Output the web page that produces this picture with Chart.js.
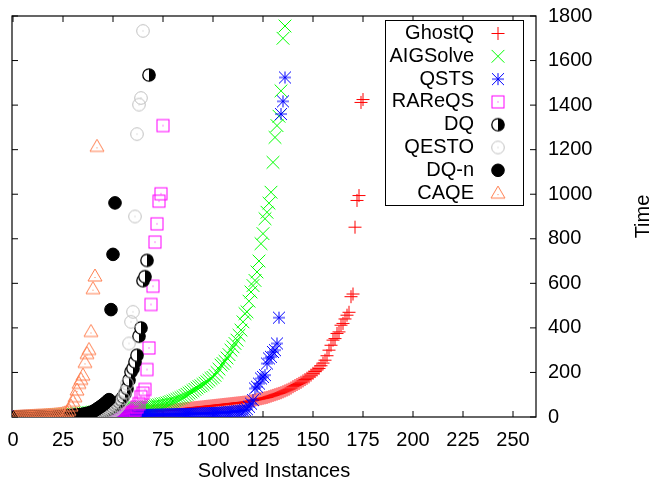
<!DOCTYPE html>
<html>
<head>
<meta charset="utf-8">
<script src="https://cdn.jsdelivr.net/npm/chart.js@4.4.0/dist/chart.umd.min.js"></script>
<style>
html,body{margin:0;padding:0;background:#fff}
#wrap{width:655px;height:486px}
</style>
</head>
<body>
<div id="wrap"><canvas id="c" width="655" height="486"></canvas></div>
<script>
// Axis ticks
const xTicks = [0, 25, 50, 75, 100, 125, 150, 175, 200, 225, 250];
const yTicks = [0, 200, 400, 600, 800, 1000, 1200, 1400, 1600, 1800];

// Solver names (legend order)
const solverNames = ['GhostQ', 'AIGSolve', 'QSTS', 'RAReQS', 'DQ', 'QESTO', 'DQ-n', 'CAQE'];

// Sorted run times (seconds); the n-th value is plotted at "n solved instances"
const ghostqTimes = [
  0.3,0.4,0.5,0.6,0.7,0.8,0.9,1.0,1.2,1.4,
  1.6,1.8,2.0,2.2,2.4,2.7,3.0,3.3,3.6,3.9,
  4.2,4.5,4.8,5.1,5.4,5.7,6.0,6.4,6.8,7.2,
  7.6,8.0,8.4,8.8,9.2,9.6,10,10.5,11,11.5,
  12,12.5,13,13.5,14,14.5,15,15.5,16,16.5,
  17,17.5,18,18.5,19,19.5,20,20.5,21,21.5,
  22,22.5,23,23.5,24,24.5,25,25.5,26,26.5,
  27,27.5,28,28.5,29,29.5,30,30.5,31,31.5,
  32,33,34,35,36,37,38,39,40,41,
  42,43,44,45,46,47,48,49,50,51,
  52,53,54,55,56,57,58,59,60,61,
  62,63,64,65,66,67,68,70,72,74,
  76,78,80,82,84,86,88,91,94,97,
  100,103,106,109,113,117,121,125,130,136,
  141,146,151,156,162,168,174,180,188,196,
  204,211,218,230,242,255,275,300,322,345,
  352,375,382,412,420,440,457,470,
  540,552,852,972,994,1412,1425
];
const aigsolveTimes = [
  0.5,0.8,1,1.3,1.6,2,2.4,2.8,3.2,3.6,
  4,4.5,5,5.5,6,6.5,7,7.5,8,8.5,
  9,9.5,10,10.5,11,11.5,12,12.5,13,13.5,
  13.5,14,15,16,17,18,19,20,21,22,
  23,24,25,26,27,28,29,30,31,32,
  33,34,35,36,37,38,39,40,41,42,
  42.5,43,43.5,44,44.5,45,
  45.5,46,47,49,51,53,55,57,59,61,63,66,69,72,
  75,79,83,87,91,97,102,107,112,118,
  124,130,136,140,146,152,158,165,173,178,
  187,200,215,233,240,250,265,280,300,315,
  330,345,367,390,427,464,472,520,
  561,590,613,651,700,778,823,890,919,960,1009,1143,1255,1308,1350,1464,1700,1755
];
const qstsTimes = [
  0.2,0.3,0.4,0.5,0.6,0.7,0.8,0.9,1,1.1,
  1.2,1.3,1.4,1.5,1.6,1.7,1.8,1.9,2,2.1,
  2.2,2.3,2.4,2.5,2.6,2.7,2.8,2.9,3,3.1,
  3.2,3.3,3.4,3.5,3.6,3.7,3.8,3.9,4,4.1,
  4.2,4.4,4.6,4.8,5,5.2,5.4,5.6,5.8,6,
  6.2,6.4,6.6,6.8,7,7.2,7.4,7.6,7.8,8,
  8.2,8.4,8.6,8.8,9,9.2,9.4,9.6,9.8,10,
  10.2,10.4,10.6,10.8,11,11.2,11.4,11.6,11.8,12,
  12.2,12.4,12.6,12.8,13,13.3,13.6,13.9,14.2,14.5,
  14.8,15.1,15.4,15.7,16,16.3,16.6,16.9,17.2,17.5,
  18,18.5,19,19.5,20,20.5,21,22,23,24,
  25,26,27,28,29,31,35,
  46,60,76,128,136,150,173,180,188,240,263,270,292,300,330,446,1360,1417,1524
];
const rareqsTimes = [
  0.1,0.1,0.1,0.2,0.2,0.2,0.3,0.3,0.3,0.4,
  0.4,0.5,0.5,0.6,0.6,0.7,0.7,0.8,0.8,0.9,
  1,1,1.1,1.2,1.3,1.4,1.5,1.6,1.7,1.8,
  1.9,2,2.1,2.2,2.4,2.6,2.8,3,3.2,3.4,
  3.6,3.8,4,4.3,4.6,5,5.5,6,6.5,7,
  8,9,10,11,12,14,16,18,20,23,
  30,45,60,91,107,124,213,310,505,587,785,867,969,1002,1308
];
const dqTimes = [
  0.1,0.1,0.2,0.2,0.3,0.3,0.4,0.5,0.6,0.7,
  0.8,0.9,1,1.1,1.2,1.4,1.6,1.8,2,2.2,
  2.4,2.7,3,3.3,3.6,4,4.5,5,5.5,6,
  6.5,7,7.5,8,9,10,11,12,13,14,
  15,17,19,21,24,27,31,35,40,
  45,52,60,68,78,90,106,128,166,203,218,248,277,363,400,612,630,703,1535
];
const qestoTimes = [
  0.1,0.2,0.2,0.3,0.4,0.5,0.6,0.7,0.8,0.9,
  1,1.1,1.2,1.4,1.6,1.8,2,2.2,2.4,2.7,
  3,3.3,3.6,4,4.4,4.8,5.2,5.7,6.2,6.7,
  7.2,7.8,8.4,9,9.7,10.4,11.2,12,13,14,
  15,16,17,18,19,20,21,22,24,
  26,32,40,50,65,85,110,150,330,427,472,900,1270,1402,1432,1733
];
const dqnTimes = [
  0.1,0.1,0.1,0.2,0.2,0.2,0.3,0.3,0.4,0.4,
  0.5,0.6,0.7,0.8,0.9,1,1.2,1.4,1.6,1.8,
  2,2.3,2.6,3,3.5,4,4.5,5,6,7,
  8,9,10,11,12,14,16,18,21,25,
  30,36,42,48,55,62,70,78,
  482,730,961
];
const caqeTimes = [
  0.5,1,1.5,2,2.5,3,3.5,4,4.5,5,
  5.5,6,6.5,7,7.5,8,8.5,9,9.5,10,
  11,12,13,14,16,19,23,30,
  49,70,91,121,151,169,188,245,285,303,384,576,633,1215
];

const FONT = '"Liberation Sans", Arial, Helvetica, sans-serif';

// Small canvas glyphs for marker types the library does not offer directly
function glyph(size, draw) {
  const c = document.createElement('canvas');
  c.width = size; c.height = size;
  const g = c.getContext('2d');
  draw(g, size / 2);
  return c;
}
const asterisk = glyph(16, (g, m) => {
  g.strokeStyle = '#0000ff'; g.lineWidth = 1;
  const r = 6;
  g.beginPath();
  g.moveTo(m - r, m); g.lineTo(m + r, m);
  g.moveTo(m, m - r); g.lineTo(m, m + r);
  g.moveTo(m - r, m - r); g.lineTo(m + r, m + r);
  g.moveTo(m - r, m + r); g.lineTo(m + r, m - r);
  g.stroke();
});
const boxDot = glyph(16, (g, m) => {
  g.strokeStyle = '#ff00ff'; g.fillStyle = '#ff00ff'; g.lineWidth = 1;
  g.strokeRect(m - 6, m - 6, 12, 12);
  g.fillRect(m - 0.5, m - 0.5, 1, 1);
});
const halfCircle = glyph(16, (g, m) => {
  g.fillStyle = '#fff';
  g.beginPath(); g.arc(m, m, 6.2, 0, Math.PI * 2); g.fill();
  g.fillStyle = '#000';
  g.beginPath(); g.arc(m, m, 6.2, -Math.PI / 2, Math.PI / 2); g.closePath(); g.fill();
  g.strokeStyle = '#000'; g.lineWidth = 1.3;
  g.beginPath(); g.arc(m, m, 6.2, 0, Math.PI * 2); g.stroke();
});
const ringDot = glyph(16, (g, m) => {
  g.strokeStyle = '#c0c0c0'; g.fillStyle = '#c0c0c0'; g.lineWidth = 1;
  g.beginPath(); g.arc(m, m, 6.3, 0, Math.PI * 2); g.stroke();
  g.fillRect(m - 0.5, m - 0.5, 1, 1);
});
const triDot = glyph(18, (g, m) => {
  g.strokeStyle = '#ff7f50'; g.fillStyle = '#ff7f50'; g.lineWidth = 1;
  g.beginPath();
  g.moveTo(m, m - 7); g.lineTo(m + 7, m + 5); g.lineTo(m - 7, m + 5); g.closePath();
  g.stroke();
  g.fillRect(m - 0.5, m + 1, 1, 1);
});

function points(arr) { return arr.map((v, i) => ({ x: i + 1, y: v })); }

const styles = [
  { data: ghostqTimes,   pointStyle: 'cross',    pointRadius: 6.5, borderColor: '#ff0000', backgroundColor: '#ff0000' },
  { data: aigsolveTimes, pointStyle: 'crossRot', pointRadius: 9,   borderColor: '#00ff00', backgroundColor: '#00ff00' },
  { data: qstsTimes,     pointStyle: asterisk,   pointRadius: 6,   borderColor: '#0000ff', backgroundColor: '#0000ff' },
  { data: rareqsTimes,   pointStyle: boxDot,     pointRadius: 6,   borderColor: '#ff00ff', backgroundColor: '#ff00ff' },
  { data: dqTimes,       pointStyle: halfCircle, pointRadius: 6,   borderColor: '#000000', backgroundColor: '#000000' },
  { data: qestoTimes,    pointStyle: ringDot,    pointRadius: 6,   borderColor: '#c0c0c0', backgroundColor: '#c0c0c0' },
  { data: dqnTimes,      pointStyle: 'circle',   pointRadius: 6.3, borderColor: '#000000', backgroundColor: '#000000' },
  { data: caqeTimes,     pointStyle: triDot,     pointRadius: 7,   borderColor: '#ff7f50', backgroundColor: '#ff7f50' }
];

const datasets = styles.map((s, i) => ({
  label: solverNames[i],
  data: points(s.data),
  showLine: false,
  pointStyle: s.pointStyle,
  pointRadius: s.pointRadius,
  pointHoverRadius: s.pointRadius,
  pointBorderWidth: 1,
  borderColor: s.borderColor,
  backgroundColor: s.backgroundColor,
  order: solverNames.length - i   // later solvers are painted on top
}));

// Plot frame with inward tick marks on all four sides
const framePlugin = {
  id: 'frame',
  beforeDatasetsDraw(chart) {
    const { ctx, chartArea: a, scales: { x, y } } = chart;
    ctx.save();
    ctx.strokeStyle = '#000';
    ctx.lineWidth = 1.2;
    ctx.strokeRect(a.left, a.top, a.right - a.left, a.bottom - a.top);
    ctx.lineWidth = 1;
    ctx.beginPath();
    const tl = 6;
    xTicks.forEach(v => {
      const px = x.getPixelForValue(v);
      ctx.moveTo(px, a.bottom); ctx.lineTo(px, a.bottom - tl);
      ctx.moveTo(px, a.top); ctx.lineTo(px, a.top + tl);
    });
    yTicks.forEach(v => {
      const py = y.getPixelForValue(v);
      ctx.moveTo(a.left, py); ctx.lineTo(a.left + tl, py);
      ctx.moveTo(a.right, py); ctx.lineTo(a.right - tl, py);
    });
    ctx.stroke();
    ctx.restore();
  }
};

// Boxed key in the top-right corner: name, then its marker; plus the rotated "Time" label
const keyPlugin = {
  id: 'key',
  afterDatasetsDraw(chart) {
    const { ctx } = chart;
    const box = { left: 385, top: 20, right: 523, bottom: 205 };
    ctx.save();
    ctx.fillStyle = '#fff';
    ctx.fillRect(box.left, box.top, box.right - box.left, box.bottom - box.top);
    ctx.strokeStyle = '#000';
    ctx.lineWidth = 1;
    ctx.strokeRect(box.left + 0.5, box.top + 0.5, box.right - box.left, box.bottom - box.top);
    ctx.font = '20px ' + FONT;
    ctx.textAlign = 'right';
    ctx.textBaseline = 'middle';
    chart.data.datasets.forEach((ds, i) => {
      const yy = 33.5 + i * 22.8;
      ctx.fillStyle = '#000';
      ctx.fillText(ds.label, 474, yy);
      ctx.strokeStyle = ds.borderColor;
      ctx.fillStyle = ds.backgroundColor;
      ctx.lineWidth = 1;
      Chart.helpers.drawPoint(ctx, { pointStyle: ds.pointStyle, radius: ds.pointRadius, borderWidth: 1, rotation: 0 }, 498, yy);
    });
    ctx.restore();
  },
  afterDraw(chart) {
    const { ctx, chartArea: a } = chart;
    ctx.save();
    ctx.font = '20px ' + FONT;
    ctx.fillStyle = '#000';
    ctx.textAlign = 'center';
    ctx.textBaseline = 'middle';
    ctx.translate(643, (a.top + a.bottom) / 2);
    ctx.rotate(-Math.PI / 2);
    ctx.fillText('Time', 0, 0);
    ctx.restore();
  }
};

// Keep the plot rectangle fixed: no extra room reserved for overhanging tick labels
function noOverhang(s) {
  s.paddingLeft = 0; s.paddingRight = 0; s.paddingTop = 0; s.paddingBottom = 0;
}

new Chart(document.getElementById('c'), {
  type: 'scatter',
  data: { datasets },
  options: {
    responsive: false,
    animation: false,
    events: [],
    layout: { padding: { left: 12, top: 16, right: 0, bottom: 0 } },
    plugins: { legend: { display: false }, tooltip: { enabled: false } },
    scales: {
      x: {
        type: 'linear',
        min: -0.5,
        max: 261.5,
        afterBuildTicks: s => { s.ticks = xTicks.map(v => ({ value: v })); },
        afterFit: s => { s.height = 69; noOverhang(s); },
        grid: { display: false, drawTicks: false },
        border: { display: false },
        ticks: { padding: 11, color: '#000', font: { size: 20, family: FONT }, maxRotation: 0, autoSkip: false, callback: v => String(v) },
        title: { display: true, text: 'Solved Instances', color: '#000', font: { size: 20, family: FONT }, padding: { top: 0, bottom: 3 } }
      },
      y: {
        type: 'linear',
        position: 'right',
        min: 0,
        max: 1800,
        afterBuildTicks: s => { s.ticks = yTicks.map(v => ({ value: v })); },
        afterFit: s => { s.width = 119; noOverhang(s); },
        grid: { display: false, drawTicks: false },
        border: { display: false },
        ticks: { padding: 12, color: '#000', font: { size: 20, family: FONT }, autoSkip: false, callback: v => String(v) }
      }
    }
  },
  plugins: [framePlugin, keyPlugin]
});
</script>
</body>
</html>
